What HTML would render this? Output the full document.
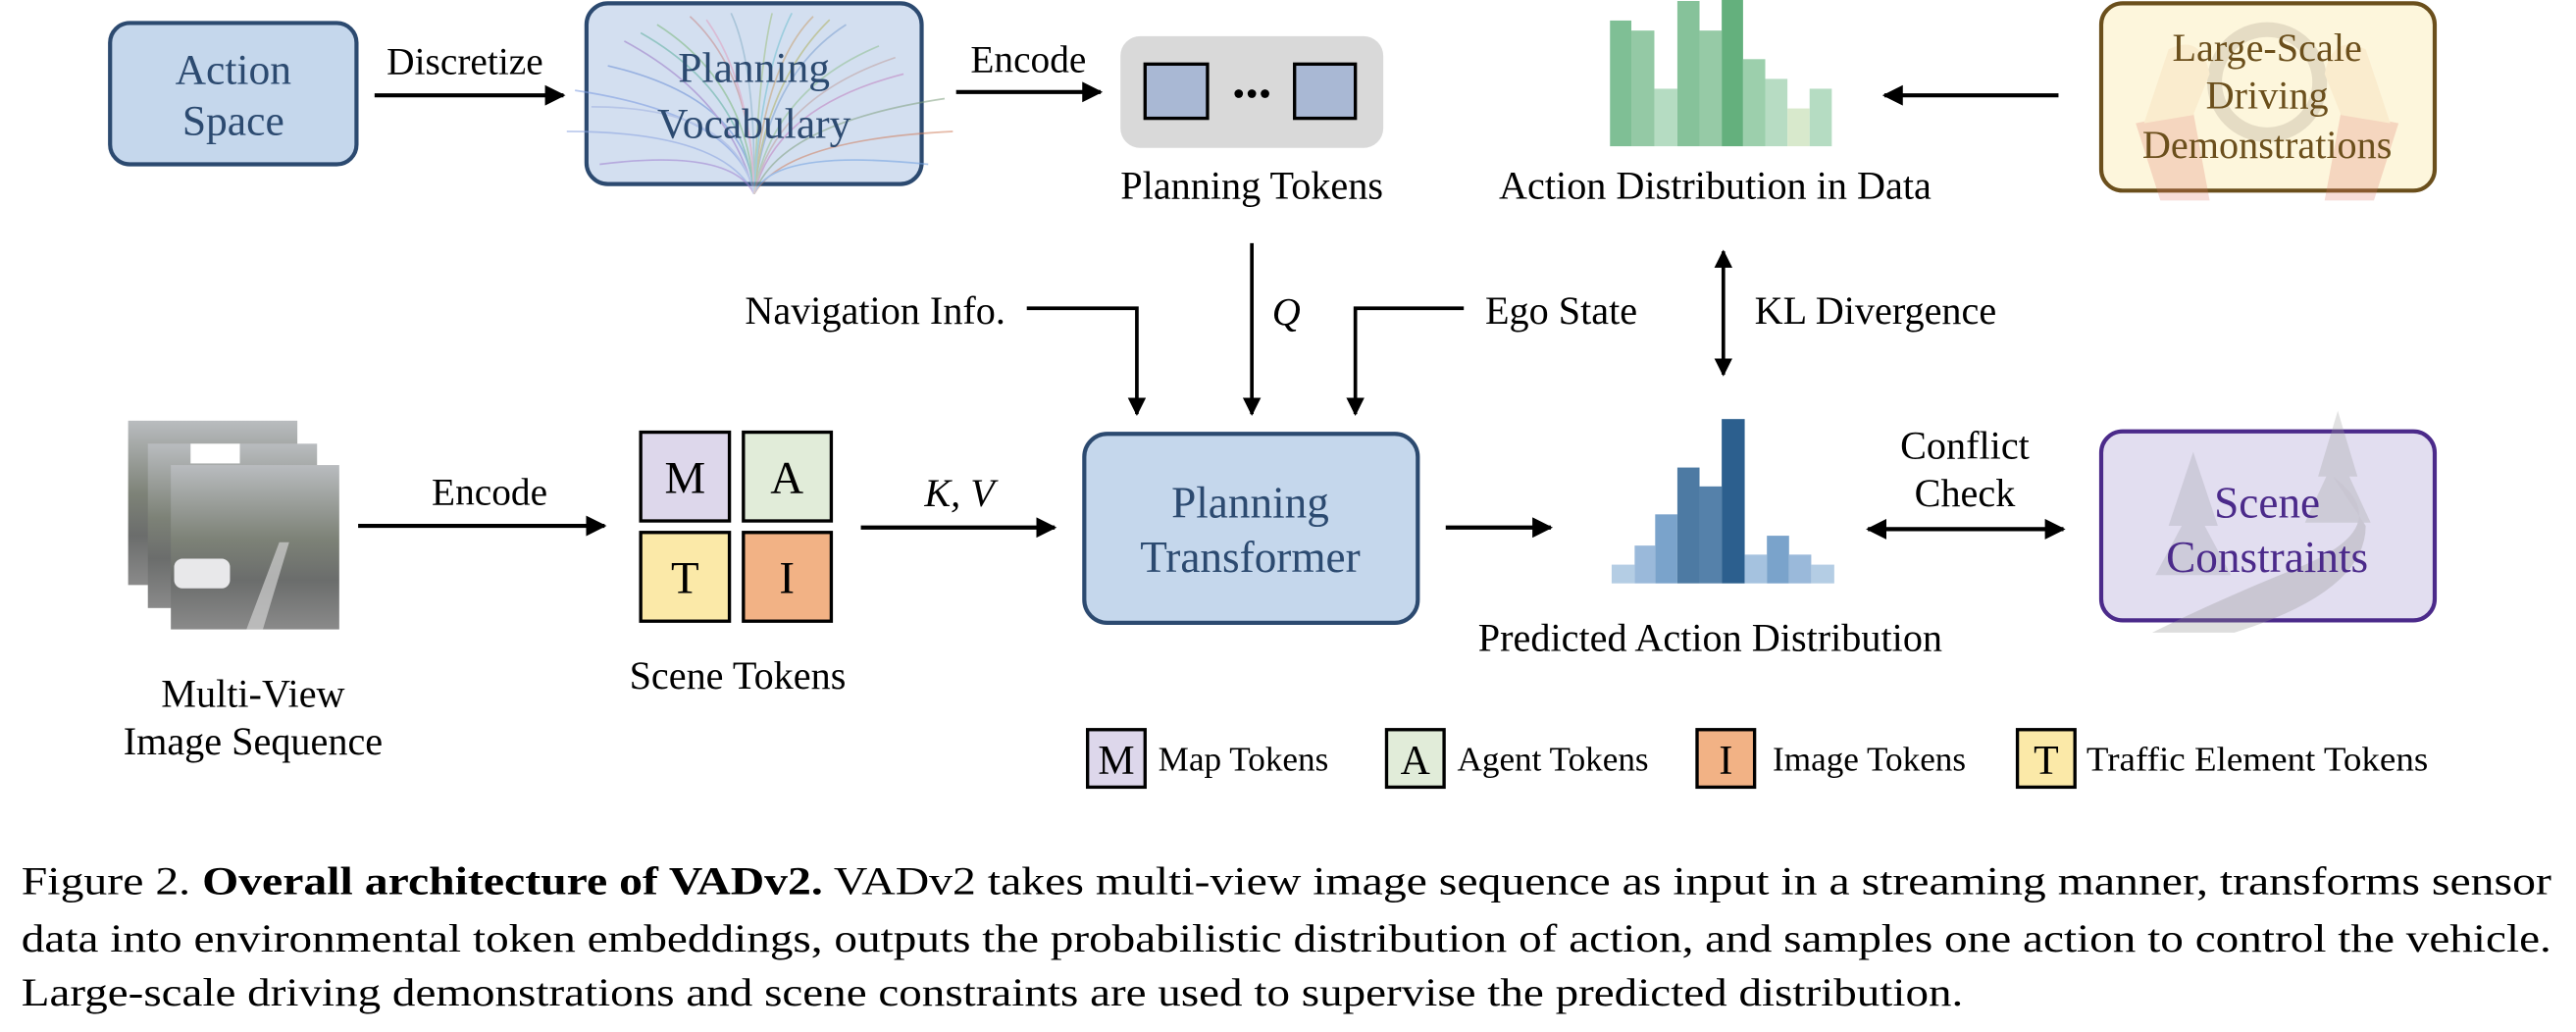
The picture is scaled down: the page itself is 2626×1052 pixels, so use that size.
<!DOCTYPE html>
<html><head><meta charset="utf-8"><style>
html,body{margin:0;padding:0;background:#fff;}
svg{display:block;}
text{font-family:"Liberation Serif","DejaVu Serif",serif;}
</style></head><body>
<svg width="2626" height="1052" viewBox="0 0 1568 628" preserveAspectRatio="none" xmlns="http://www.w3.org/2000/svg">
<defs>
<marker id="ah" viewBox="0 0 10 10" refX="9" refY="5" markerWidth="5" markerHeight="5" orient="auto-start-reverse" markerUnits="strokeWidth"><path d="M0,0 L10,5 L0,10 z" fill="#000"/></marker>
<linearGradient id="ph" x1="0" y1="0" x2="0" y2="1"><stop offset="0" stop-color="#b9bcbf"/><stop offset="0.45" stop-color="#7d8277"/><stop offset="0.7" stop-color="#6b6d6c"/><stop offset="1" stop-color="#8a8a8a"/></linearGradient>
</defs>
<rect width="1568" height="628" fill="#fff"/>

<rect x="67" y="14" width="150" height="86" rx="12" fill="#c5d7ec" stroke="#2c4a70" stroke-width="2.5"/>
<text x="142" y="51" font-size="26" fill="#2c4a70" text-anchor="middle">Action</text>
<text x="142" y="82" font-size="26" fill="#2c4a70" text-anchor="middle">Space</text>

<text x="283" y="45" font-size="23.5" text-anchor="middle">Discretize</text>
<line x1="228" y1="58" x2="343" y2="58" stroke="#000" stroke-width="2.5" marker-end="url(#ah)"/>

<rect x="357" y="2" width="204" height="110" rx="13" fill="#d3dff0" stroke="#2c4a70" stroke-width="2.5"/>
<g stroke-width="1" opacity="0.55" fill="none">
<path d="M459,118 Q455,60 370,40" stroke="#6b8fd6"/><path d="M459,118 Q450,70 350,55" stroke="#7a9ae0"/>
<path d="M459,118 Q440,80 345,80" stroke="#8aa3e0"/><path d="M459,118 Q445,60 380,25" stroke="#9c7ac8"/>
<path d="M459,118 Q455,50 400,15" stroke="#7cb87c"/><path d="M459,118 Q458,45 420,10" stroke="#c88a8a"/>
<path d="M459,118 Q460,40 445,8" stroke="#8ab0c8"/><path d="M459,118 Q462,40 470,8" stroke="#a0c080"/>
<path d="M459,118 Q465,40 495,10" stroke="#c8a070"/><path d="M459,118 Q468,45 515,15" stroke="#7ca0d0"/>
<path d="M459,118 Q470,55 535,28" stroke="#90c090"/><path d="M459,118 Q472,65 550,45" stroke="#c080c0"/>
<path d="M459,118 Q475,75 575,60" stroke="#80a080"/><path d="M459,118 Q478,85 580,80" stroke="#d08060"/>
<path d="M459,118 Q470,90 565,100" stroke="#70a0e0"/><path d="M459,118 Q445,90 365,100" stroke="#a080d0"/>
<path d="M459,118 Q452,55 390,20" stroke="#60b0a0"/><path d="M459,118 Q466,50 505,12" stroke="#b0b060"/>
<path d="M459,118 Q457,50 430,12" stroke="#e0a0c0"/><path d="M459,118 Q463,45 482,8" stroke="#70c0d0"/>
<path d="M459,118 Q448,65 360,65" stroke="#a0b0e0"/><path d="M459,118 Q471,60 545,35" stroke="#c0a0a0"/>
</g>
<text x="459" y="50" font-size="26" fill="#2c4a70" text-anchor="middle">Planning</text>
<text x="459" y="84" font-size="26" fill="#2c4a70" text-anchor="middle">Vocabulary</text>

<text x="626" y="44" font-size="23.5" text-anchor="middle">Encode</text>
<line x1="582" y1="56" x2="670" y2="56" stroke="#000" stroke-width="2.5" marker-end="url(#ah)"/>

<rect x="682" y="22" width="160" height="68" rx="12" fill="#d9d9d9"/>
<rect x="697" y="39" width="38" height="33" fill="#a9b8d4" stroke="#000" stroke-width="2"/>
<rect x="788" y="39" width="37" height="33" fill="#a9b8d4" stroke="#000" stroke-width="2"/>
<circle cx="754" cy="57" r="2.6"/><circle cx="762" cy="57" r="2.6"/><circle cx="770" cy="57" r="2.6"/>
<text x="762" y="121" font-size="24" text-anchor="middle">Planning Tokens</text>

<g>
<rect x="980" y="12.5" width="13" height="76.5" fill="#7fbf95"/>
<rect x="993" y="18.6" width="14" height="70.4" fill="#94c9a5"/>
<rect x="1007" y="54" width="14" height="35" fill="#b5dcc2"/>
<rect x="1021" y="0.6" width="13.5" height="88.4" fill="#86c29a"/>
<rect x="1034.5" y="18.6" width="13.5" height="70.4" fill="#96caa6"/>
<rect x="1048" y="0" width="13" height="89" fill="#64b07d"/>
<rect x="1061" y="36" width="13.5" height="53" fill="#9ccfac"/>
<rect x="1074.5" y="48" width="13.5" height="41" fill="#b7dcc3"/>
<rect x="1088" y="66" width="13.5" height="23" fill="#d8e9cc"/>
<rect x="1101.5" y="54" width="13.5" height="35" fill="#b5dcc2"/>
</g>
<text x="1044" y="121" font-size="24" text-anchor="middle">Action Distribution in Data</text>
<line x1="1253" y1="58" x2="1147" y2="58" stroke="#000" stroke-width="2.5" marker-end="url(#ah)"/>

<rect x="1279" y="2" width="203" height="114" rx="13" fill="#fdf6dc" stroke="#6b4f1c" stroke-width="2.5"/>
<g opacity="0.25">
<circle cx="1380" cy="50" r="32" fill="none" stroke="#a09080" stroke-width="9"/>
<path d="M1300,75 L1335,68 L1345,122 L1315,122 z" fill="#e07a6a"/>
<path d="M1460,75 L1425,68 L1415,122 L1445,122 z" fill="#e07a6a"/>
<path d="M1320,30 Q1340,20 1345,45 L1335,70 L1305,75 z" fill="#f5d0a8"/>
<path d="M1440,30 Q1420,20 1415,45 L1425,70 L1455,75 z" fill="#f5d0a8"/>
</g>
<text x="1380" y="37" font-size="24" fill="#6b4f1c" text-anchor="middle">Large-Scale</text>
<text x="1380" y="66" font-size="24" fill="#6b4f1c" text-anchor="middle">Driving</text>
<text x="1380" y="96" font-size="24" fill="#6b4f1c" text-anchor="middle">Demonstrations</text>

<line x1="762" y1="148" x2="762" y2="252" stroke="#000" stroke-width="2.2" marker-end="url(#ah)"/>
<text x="783" y="198" font-size="24" font-style="italic" text-anchor="middle">Q</text>
<text x="612" y="197" font-size="24" text-anchor="end">Navigation Info.</text>
<polyline points="625,187.6 692,187.6 692,252" fill="none" stroke="#000" stroke-width="2.2" marker-end="url(#ah)"/>
<text x="904" y="197" font-size="24">Ego State</text>
<polyline points="891,187.6 825,187.6 825,252" fill="none" stroke="#000" stroke-width="2.2" marker-end="url(#ah)"/>
<line x1="1049" y1="153" x2="1049" y2="228" stroke="#000" stroke-width="2.2" marker-start="url(#ah)" marker-end="url(#ah)"/>
<text x="1068" y="197" font-size="24">KL Divergence</text>

<rect x="660" y="264" width="203" height="115" rx="14" fill="#c5d7ec" stroke="#2c4a70" stroke-width="2.5"/>
<text x="761" y="315" font-size="27" fill="#2c4a70" text-anchor="middle">Planning</text>
<text x="761" y="348" font-size="27" fill="#2c4a70" text-anchor="middle">Transformer</text>
<line x1="880" y1="321" x2="944" y2="321" stroke="#000" stroke-width="2.5" marker-end="url(#ah)"/>

<g>
<rect x="981" y="343.6" width="14" height="11.4" fill="#b4cde4"/>
<rect x="995" y="332" width="12.5" height="23" fill="#9ab9da"/>
<rect x="1007.5" y="313" width="13.5" height="42" fill="#7aa3cb"/>
<rect x="1021" y="284.5" width="13.5" height="70.5" fill="#4d7aa3"/>
<rect x="1034.5" y="296" width="13.5" height="59" fill="#5581aa"/>
<rect x="1048" y="255" width="14" height="100" fill="#2c5f8e"/>
<rect x="1062" y="337.5" width="13.5" height="17.5" fill="#a5c2df"/>
<rect x="1075.5" y="326" width="13.5" height="29" fill="#7aa3cb"/>
<rect x="1089" y="337.5" width="13.5" height="17.5" fill="#9ab9da"/>
<rect x="1102.5" y="343.6" width="14" height="11.4" fill="#b4cde4"/>
</g>
<text x="1041" y="396" font-size="24" text-anchor="middle">Predicted Action Distribution</text>
<text x="1196" y="279" font-size="24" text-anchor="middle">Conflict</text>
<text x="1196" y="308" font-size="24" text-anchor="middle">Check</text>
<line x1="1137" y1="322" x2="1256" y2="322" stroke="#000" stroke-width="2.5" marker-start="url(#ah)" marker-end="url(#ah)"/>

<rect x="1279" y="262.5" width="203" height="115" rx="13" fill="#e2def0" stroke="#4b2a8a" stroke-width="2.5"/>
<g opacity="0.3">
<path d="M1335,275 L1350,320 L1342,320 L1358,350 L1312,350 L1328,320 L1320,320 z" fill="#a0a0a8"/>
<path d="M1423,250 L1435,290 L1430,290 L1443,318 L1403,318 L1416,290 L1411,290 z" fill="#a0a0a0"/>
<path d="M1420,290 Q1460,320 1400,345 Q1350,365 1310,385 L1360,385 Q1440,360 1440,320 z" fill="#909090"/>
</g>
<text x="1380" y="315" font-size="27" fill="#4b2a8a" text-anchor="middle">Scene</text>
<text x="1380" y="348" font-size="27" fill="#4b2a8a" text-anchor="middle">Constraints</text>

<rect x="78" y="256" width="103" height="100" fill="url(#ph)"/>
<rect x="90" y="270" width="103" height="100" fill="url(#ph)"/>
<rect x="104" y="283" width="102.5" height="100" fill="url(#ph)"/>
<rect x="116" y="270" width="30" height="12" fill="#fff"/>
<path d="M150,383 L170,330 L176,330 L160,383 z" fill="#d0d0d0" opacity="0.7"/>
<rect x="106" y="340" width="34" height="18" rx="5" fill="#e8e8ea"/>
<text x="154" y="430" font-size="24" text-anchor="middle">Multi-View</text>
<text x="154" y="459" font-size="24" text-anchor="middle">Image Sequence</text>

<text x="298" y="307" font-size="23.5" text-anchor="middle">Encode</text>
<line x1="218" y1="320" x2="368" y2="320" stroke="#000" stroke-width="2.5" marker-end="url(#ah)"/>

<rect x="390" y="263" width="54" height="54" fill="#ddd7eb" stroke="#000" stroke-width="2"/>
<rect x="452.5" y="263" width="53.5" height="54" fill="#e1ecd9" stroke="#000" stroke-width="2"/>
<rect x="390" y="324" width="54" height="54" fill="#fbe9a8" stroke="#000" stroke-width="2"/>
<rect x="452.5" y="324" width="53.5" height="54" fill="#f2b285" stroke="#000" stroke-width="2"/>
<text x="417" y="300" font-size="28" text-anchor="middle">M</text>
<text x="479" y="300" font-size="28" text-anchor="middle">A</text>
<text x="417" y="361" font-size="28" text-anchor="middle">T</text>
<text x="479" y="361" font-size="28" text-anchor="middle">I</text>
<text x="449" y="419" font-size="24" text-anchor="middle">Scene Tokens</text>
<text x="584" y="308" font-size="24" font-style="italic" text-anchor="middle">K, V</text>
<line x1="524" y1="321" x2="642" y2="321" stroke="#000" stroke-width="2.5" marker-end="url(#ah)"/>

<rect x="662" y="444" width="35" height="35" fill="#ddd7eb" stroke="#000" stroke-width="2"/>
<text x="679.5" y="471" font-size="25" text-anchor="middle">M</text>
<text x="705" y="469" font-size="21">Map Tokens</text>
<rect x="844" y="444" width="35" height="35" fill="#e1ecd9" stroke="#000" stroke-width="2"/>
<text x="861.5" y="471" font-size="25" text-anchor="middle">A</text>
<text x="887" y="469" font-size="21">Agent Tokens</text>
<rect x="1033" y="444" width="35" height="35" fill="#f2b285" stroke="#000" stroke-width="2"/>
<text x="1050.5" y="471" font-size="25" text-anchor="middle">I</text>
<text x="1079" y="469" font-size="21">Image Tokens</text>
<rect x="1228" y="444" width="35" height="35" fill="#fbe9a8" stroke="#000" stroke-width="2"/>
<text x="1245.5" y="471" font-size="25" text-anchor="middle">T</text>
<text x="1270" y="469" font-size="21" textLength="208" lengthAdjust="spacingAndGlyphs">Traffic Element Tokens</text>

<text x="13" y="544" font-size="24" textLength="1540" lengthAdjust="spacingAndGlyphs">Figure 2. <tspan font-weight="bold">Overall architecture of VADv2.</tspan> VADv2 takes multi-view image sequence as input in a streaming manner, transforms sensor</text>
<text x="13" y="579" font-size="24" textLength="1540" lengthAdjust="spacingAndGlyphs">data into environmental token embeddings, outputs the probabilistic distribution of action, and samples one action to control the vehicle.</text>
<text x="13" y="612" font-size="24" textLength="1182" lengthAdjust="spacingAndGlyphs">Large-scale driving demonstrations and scene constraints are used to supervise the predicted distribution.</text>
</svg>
</body></html>
